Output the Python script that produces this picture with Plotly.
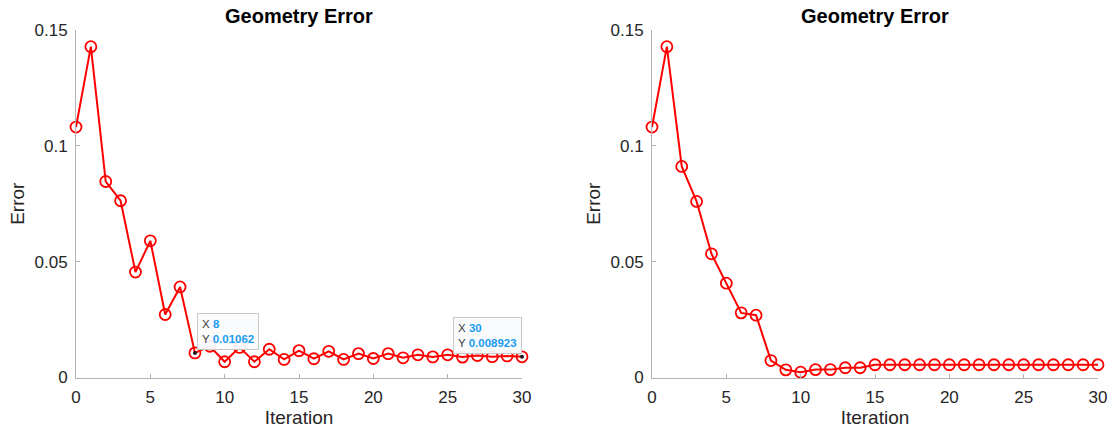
import plotly.graph_objects as go

# Geometry error per iteration for two optimisation runs
iterations = list(range(31))
error_run_a = [0.1081, 0.1428, 0.0846, 0.0763, 0.0455, 0.0590, 0.0272, 0.0391,
               0.01062, 0.0135, 0.0068, 0.0130, 0.0068, 0.0122, 0.0078, 0.0116,
               0.0081, 0.0113, 0.0078, 0.0103, 0.0082, 0.0103, 0.0085, 0.0098,
               0.0089, 0.0098, 0.0088, 0.0095, 0.0090, 0.0093, 0.008923]
error_run_b = [0.1081, 0.1428, 0.0911, 0.0760, 0.0534, 0.0407, 0.0279, 0.0269,
               0.0073, 0.0033, 0.0023, 0.0034, 0.0034, 0.0042, 0.0042, 0.0055,
               0.0055, 0.0055, 0.0055, 0.0055, 0.0055, 0.0055, 0.0055, 0.0055,
               0.0055, 0.0055, 0.0055, 0.0055, 0.0055, 0.0055, 0.0055]
datatip_idx = [8, 30]

x_ticks = [0, 5, 10, 15, 20, 25, 30]
y_ticks = [0, 0.05, 0.1, 0.15]
y_tick_text = ["0", "0.05", "0.1", "0.15"]

FONT = "Liberation Sans, Arial, Helvetica, sans-serif"
RED = "#ff0000"
AXIS_GREY = "#b3b3b3"
TEXT = "#262626"
TIP_BLUE = "#1a9cf0"

W, H = 1114, 432
y_dom = [1 - 377.5 / H, 1 - 30 / H]
x_dom_a = [76 / W, 522 / W]
x_dom_b = [652 / W, 1098 / W]

fig = go.Figure()

for ys, xa, ya in [(error_run_a, "x", "y"), (error_run_b, "x2", "y2")]:
    fig.add_trace(go.Scatter(
        x=iterations, y=ys, xaxis=xa, yaxis=ya, mode="lines+markers",
        line=dict(color=RED, width=2),
        marker=dict(symbol="circle-open", size=11, color=RED, line=dict(width=1.8, color=RED)),
        cliponaxis=False, showlegend=False, hoverinfo="skip",
    ))

# data-tip dots on the first run
fig.add_trace(go.Scatter(
    x=[iterations[i] for i in datatip_idx], y=[error_run_a[i] for i in datatip_idx],
    xaxis="x", yaxis="y", mode="markers",
    marker=dict(symbol="circle", size=4, color="#1a1a1a"),
    cliponaxis=False, showlegend=False, hoverinfo="skip",
))

axis_common = dict(
    showline=True, linecolor=AXIS_GREY, linewidth=1, mirror=False,
    showgrid=False, zeroline=False, automargin=False,
    ticks="inside", ticklen=4, tickcolor=AXIS_GREY, tickwidth=1,
    tickfont=dict(family=FONT, size=17, color=TEXT),
)

for suffix, xdom in [("", x_dom_a), ("2", x_dom_b)]:
    fig.update_layout(**{
        "xaxis" + suffix: dict(
            axis_common, domain=xdom, range=[0, 30], tickvals=x_ticks,
            anchor="y" + suffix, ticklabelstandoff=4,
            title=dict(text="Iteration", font=dict(family=FONT, size=19, color=TEXT), standoff=1),
        ),
        "yaxis" + suffix: dict(
            axis_common, domain=y_dom, range=[0, 0.15], tickvals=y_ticks, ticktext=y_tick_text,
            anchor="x" + suffix, ticklabelstandoff=4,
            title=dict(text="Error", font=dict(family=FONT, size=19, color=TEXT), standoff=4),
        ),
    })

annotations = []
for xr in ["x domain", "x2 domain"]:
    annotations.append(dict(
        text="<b>Geometry Error</b>", xref=xr, x=0.5, yref="paper", y=1 - 16.5 / H,
        xanchor="center", yanchor="middle", showarrow=False,
        font=dict(family=FONT, size=20, color="#000000"),
    ))


def tip_text(xv, yv):
    return (f"X <span style='color:{TIP_BLUE}'><b>{xv}</b></span><br>"
            f"Y <span style='color:{TIP_BLUE}'><b>{yv}</b></span>")


tip_cfg = [(datatip_idx[0], "left", 2, 3), (datatip_idx[1], "right", 0, 3)]
for idx, anchor, xs, ys in tip_cfg:
    annotations.append(dict(
        text=tip_text(iterations[idx], error_run_a[idx]), xref="x", yref="y",
        x=iterations[idx], y=error_run_a[idx], xanchor=anchor, yanchor="bottom",
        xshift=xs, yshift=ys, showarrow=False, align="left",
        font=dict(family=FONT, size=11.5, color="#3a3a3a"),
        bgcolor="rgba(250,251,253,0.95)", bordercolor="#c8c8c8", borderwidth=1, borderpad=4,
    ))

fig.update_layout(
    width=W, height=H, margin=dict(l=0, r=0, t=0, b=0),
    paper_bgcolor="white", plot_bgcolor="white",
    annotations=annotations,
)

fig.write_html("out.html")
